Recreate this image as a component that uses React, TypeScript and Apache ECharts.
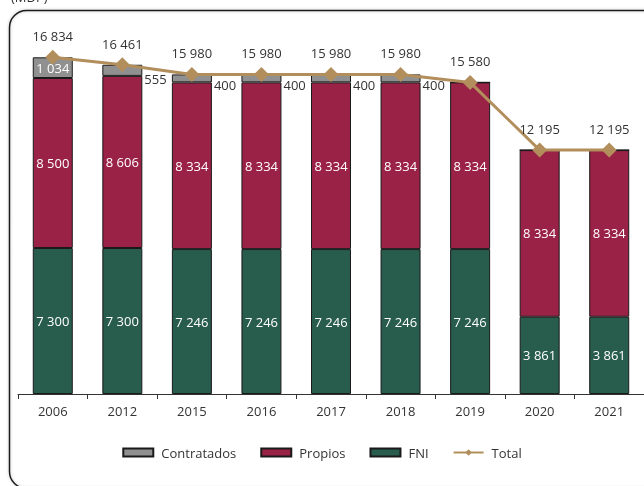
import React, { useEffect, useRef } from "react";
import * as echarts from "echarts";

const years = ["2006", "2012", "2015", "2016", "2017", "2018", "2019", "2020", "2021"];
const fni = [7300, 7300, 7246, 7246, 7246, 7246, 7246, 3861, 3861];
const propios = [8500, 8606, 8334, 8334, 8334, 8334, 8334, 8334, 8334];
const contratados = [1034, 555, 400, 400, 400, 400, 0, 0, 0];
const total = [16834, 16461, 15980, 15980, 15980, 15980, 15580, 12195, 12195];

const FONT = "'Open Sans', sans-serif";
const fmt = (v: number) => String(v).replace(/\B(?=(\d{3})+(?!\d))/g, " ");

export default function App() {
  const ref = useRef<HTMLDivElement>(null);
  useEffect(() => {
    if (!ref.current) return;
    const chart = echarts.init(ref.current, undefined, { renderer: "svg" });
    const barBorder = { borderColor: "#1a1a1a", borderWidth: 1 };
    chart.setOption({
      animation: false,
      textStyle: { fontFamily: FONT },
      graphic: [
        {
          type: "rect",
          shape: { x: 9.5, y: 10.5, width: 680, height: 478, r: 17 },
          style: { fill: "none", stroke: "#1f1f1f", lineWidth: 1.5, shadowBlur: 3, shadowColor: "rgba(0,0,0,0.25)" },
          z: -1,
        },
        {
          type: "text",
          x: 11,
          y: -10,
          style: { text: "(MDP)", fontSize: 13, fontFamily: FONT, fill: "#333" },
        },
      ],
      grid: { left: 18, width: 627, top: 34, height: 360 },
      legend: {
        data: [
          { name: "Contratados", icon: "rect" },
          { name: "Propios", icon: "rect" },
          { name: "FNI", icon: "rect" },
          { name: "Total" },
        ],
        bottom: 22,
        left: "center",
        itemWidth: 30,
        itemHeight: 8,
        itemGap: 24,
        textStyle: { fontSize: 13, color: "#333", fontFamily: FONT, padding: [0, 0, 0, 3] },
      },
      xAxis: {
        type: "category",
        data: years,
        axisLine: { lineStyle: { color: "#333", width: 1 } },
        axisTick: { show: true, length: 5, lineStyle: { color: "#333" } },
        axisLabel: { fontSize: 13, color: "#333", margin: 10, fontFamily: FONT },
      },
      yAxis: { type: "value", min: 0, max: 18000, show: false, splitLine: { show: false } },
      series: [
        {
          name: "FNI",
          type: "bar",
          stack: "t",
          barWidth: 40,
          data: fni,
          itemStyle: { color: "#285c4d", ...barBorder },
          label: { show: true, position: "inside", color: "#fff", fontSize: 13, fontFamily: FONT, formatter: (p: any) => fmt(p.value) },
        },
        {
          name: "Propios",
          type: "bar",
          stack: "t",
          barWidth: 40,
          data: propios,
          itemStyle: { color: "#9b2247", ...barBorder },
          label: { show: true, position: "inside", color: "#fff", fontSize: 13, fontFamily: FONT, formatter: (p: any) => fmt(p.value) },
        },
        {
          name: "Contratados",
          type: "bar",
          stack: "t",
          barWidth: 40,
          data: contratados.map((v, i) => ({
            value: v,
            label:
              v === 0
                ? { show: false }
                : i === 0
                ? { show: true, position: "inside", color: "#fff" }
                : { show: true, position: "right", distance: 2, offset: [0, i === 1 ? 9 : 7], color: "#333" },
          })),
          itemStyle: { color: "#909090", ...barBorder },
          label: { show: true, fontSize: 13, fontFamily: FONT, formatter: (p: any) => fmt(p.value) },
        },
        {
          name: "Total",
          type: "line",
          data: total,
          symbol: "diamond",
          symbolSize: 15,
          lineStyle: { color: "#b38e5d", width: 3 },
          itemStyle: { color: "#b38e5d" },
          z: 10,
          label: { show: true, position: "top", distance: 7, color: "#333", fontSize: 13, fontFamily: FONT, formatter: (p: any) => fmt(p.value) },
        },
      ],
    });
    return () => chart.dispose();
  }, []);
  return <div ref={ref} style={{ position: "fixed", left: 0, top: 0, width: 644, height: 486 }} />;
}
